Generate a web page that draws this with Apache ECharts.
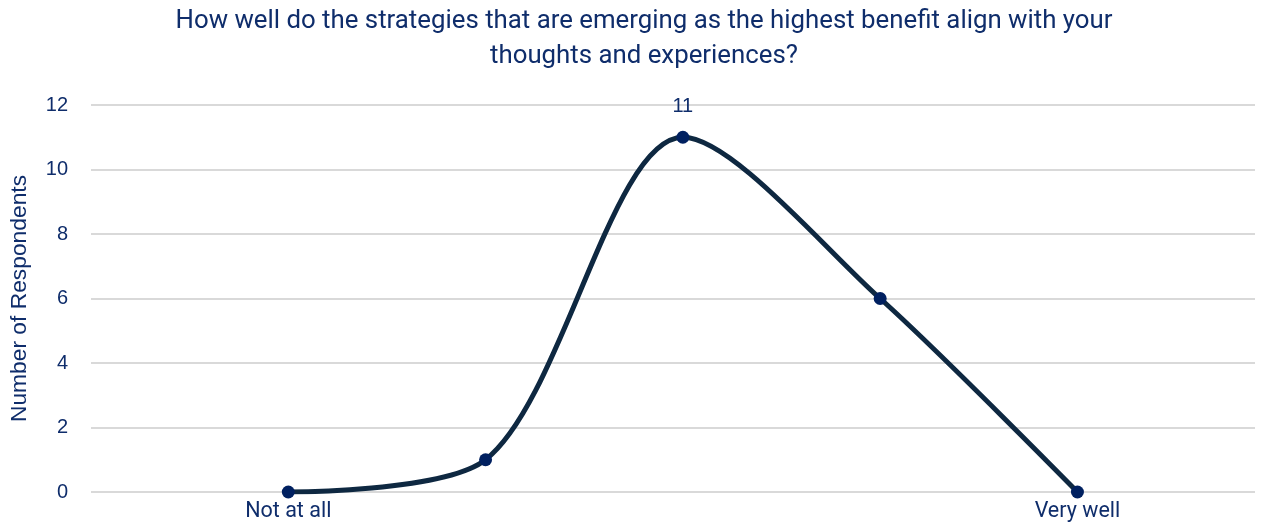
<!DOCTYPE html>
<html>
<head>
<meta charset="utf-8">
<script src="https://cdn.jsdelivr.net/npm/echarts@6/dist/echarts.min.js"></script>
<style>
  html, body { margin: 0; padding: 0; background: #ffffff; }
  #chart { width: 1265px; height: 524px; }
</style>
</head>
<body>
<div id="chart"></div>
<script>
// Response scale positions and their labels (only the ends are named)
const scalePositions = [1, 2, 3, 4, 5];
const scaleLabels = ['Not at all', '', '', '', 'Very well'];
// Respondent counts for each scale position
const respondents = [0, 1, 11, 6, 0];
// Value labelled on the chart
const labelledValues = [11];

const titleText = 'How well do the strategies that are emerging as the highest benefit align with your\nthoughts and experiences?';
const navy = '#0f2d6b';

const chart = echarts.init(document.getElementById('chart'), null, { renderer: 'canvas' });

const points = scalePositions.map((x, i) => [x, respondents[i]]);

chart.setOption({
  animation: false,
  backgroundColor: '#ffffff',
  // Two-line heading, centred over the plot area
  graphic: [{
    type: 'text',
    x: 644,
    y: 4,
    style: {
      text: titleText,
      fontFamily: 'Roboto',
      fontWeight: 'normal',
      fontSize: 25.8,
      lineHeight: 35,
      fill: navy,
      align: 'center',
      verticalAlign: 'top'
    }
  }],
  grid: { left: 90, right: 10, top: 105, bottom: 32, containLabel: false },
  xAxis: {
    type: 'value',
    min: 0,
    max: 5.9,
    interval: 1,
    axisLine: { show: false },
    axisTick: { show: false },
    splitLine: { show: false },
    axisLabel: {
      showMinLabel: false,
      showMaxLabel: false,
      margin: 9,
      fontFamily: 'Roboto',
      fontSize: 21.5,
      color: navy,
      formatter: v => {
        const i = scalePositions.indexOf(Math.round(v));
        return i >= 0 && Math.abs(v - Math.round(v)) < 1e-6 ? scaleLabels[i] : '';
      }
    }
  },
  yAxis: {
    type: 'value',
    min: 0,
    max: 12,
    interval: 2,
    name: 'Number of Respondents',
    nameLocation: 'middle',
    nameGap: 60,
    nameTextStyle: {
      fontFamily: 'Liberation Sans',
      fontSize: 22.8,
      color: navy
    },
    axisLine: { show: false },
    axisTick: { show: false },
    axisLabel: {
      margin: 23,
      fontFamily: 'Liberation Sans',
      fontSize: 20,
      color: navy
    },
    splitLine: { lineStyle: { color: '#d9d9d9', width: 2 } }
  },
  series: [{
    type: 'line',
    data: points,
    smooth: 0.3,
    symbol: 'circle',
    symbolSize: 13,
    lineStyle: { color: '#0e2841', width: 5 },
    itemStyle: { color: '#002060' },
    label: {
      show: true,
      position: 'top',
      distance: 14,
      fontFamily: 'Liberation Sans',
      fontSize: 20,
      color: navy,
      formatter: p => labelledValues.includes(p.value[1]) ? String(p.value[1]) : ''
    }
  }]
});
</script>
</body>
</html>
